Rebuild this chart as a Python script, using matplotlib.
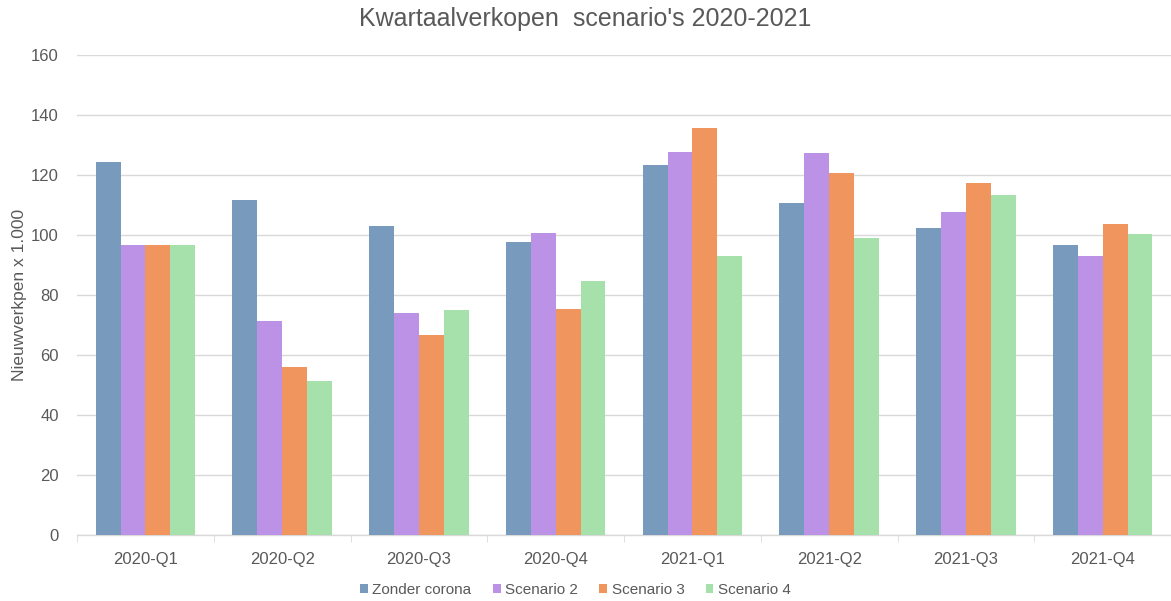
import matplotlib
matplotlib.use("Agg")
import matplotlib.pyplot as plt
import numpy as np

categories = ["2020-Q1", "2020-Q2", "2020-Q3", "2020-Q4", "2021-Q1", "2021-Q2", "2021-Q3", "2021-Q4"]
zonder_corona = [124.4, 111.7, 103.1, 97.7, 123.3, 110.5, 102.3, 96.5]
scenario_2 = [96.8, 71.3, 73.9, 100.7, 127.7, 127.4, 107.6, 92.9]
scenario_3 = [96.8, 56.1, 66.8, 75.4, 135.7, 120.6, 117.4, 103.7]
scenario_4 = [96.8, 51.3, 75.1, 84.7, 93.0, 98.9, 113.3, 100.4]
series_names = ["Zonder corona", "Scenario 2", "Scenario 3", "Scenario 4"]
y_ticks = [0, 20, 40, 60, 80, 100, 120, 140, 160]

colors = ["#789BBD", "#BC92E6", "#EF955D", "#A6E0AA"]
text_color = "#595959"

plt.rcParams['font.family'] = ['Liberation Sans', 'DejaVu Sans']

fig = plt.figure(figsize=(11.71, 6.01), dpi=100)
ax = fig.add_axes([0.0658, 0.110, 0.9342, 0.7985])

x = np.arange(len(categories))
bw = 0.182
data = [zonder_corona, scenario_2, scenario_3, scenario_4]
for i, (vals, name, c) in enumerate(zip(data, series_names, colors)):
    ax.bar(x + (i - 1.5) * bw, vals, width=bw, color=c, label=name, zorder=3)

ax.set_xlim(-0.5, len(categories) - 0.5)
ax.set_ylim(0, 160)
ax.set_yticks(y_ticks)
ax.grid(axis='y', color='#D9D9D9', linewidth=1.0, zorder=0)
for s in ['left', 'right', 'top']:
    ax.spines[s].set_visible(False)
ax.spines['bottom'].set_color('#D9D9D9')
ax.spines['bottom'].set_linewidth(1.0)

ax.set_xticks(x)
ax.set_xticklabels(categories)
ax.set_xticks(np.arange(-0.5, len(categories)), minor=True)
ax.tick_params(axis='x', which='major', length=0, pad=12, labelsize=12, labelcolor=text_color)
ax.tick_params(axis='x', which='minor', length=5, color='#D9D9D9', direction='out')
ax.tick_params(axis='y', length=0, pad=13, labelsize=12, labelcolor=text_color)

ax.set_ylabel("Nieuwverkpen x 1.000", fontsize=12.5, color=text_color, labelpad=3)
fig.text(0.5, 0.969, "Kwartaalverkopen  scenario's 2020-2021", ha='center', va='center',
         fontsize=18, color=text_color)

leg = fig.legend(loc='center', bbox_to_anchor=(0.4915, 0.018), ncol=4, frameon=False,
                 fontsize=11, handlelength=0.5, handleheight=0.5, handletextpad=0.3,
                 columnspacing=1.4)
for t in leg.get_texts():
    t.set_color(text_color)

fig.savefig("out.png", dpi=100)
